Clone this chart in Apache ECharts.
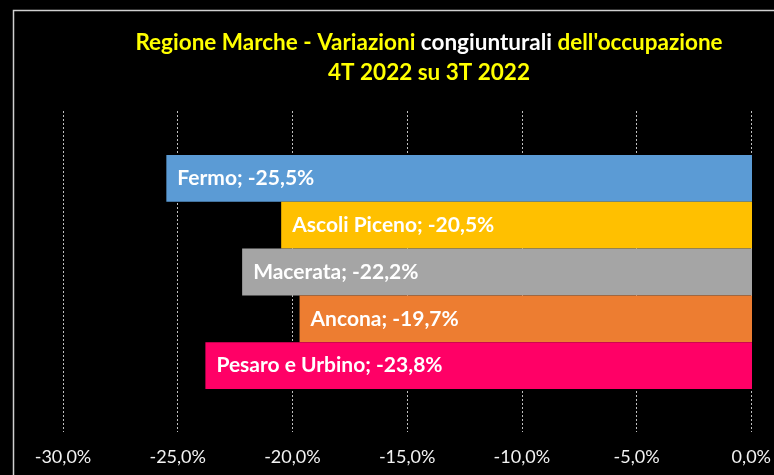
<!DOCTYPE html>
<html>
<head>
<meta charset="utf-8">
<script src="https://cdn.jsdelivr.net/npm/echarts@6/dist/echarts.min.js"></script>
<style>
html, body { margin: 0; padding: 0; background: #000; }
#chart { width: 774px; height: 475px; }
</style>
</head>
<body>
<div id="chart"></div>
<script>
// province e variazioni (4T 2022 su 3T 2022)
const province = ['Fermo', 'Ascoli Piceno', 'Macerata', 'Ancona', 'Pesaro e Urbino'];
const variazioni = [-25.5, -20.5, -22.2, -19.7, -23.8];
const colori = ['#5B9BD5', '#FFC000', '#A5A5A5', '#ED7D31', '#FF0066'];
const tickMin = -30, tickMax = 0, tickStep = 5;

const fmt = v => v.toFixed(1).replace('.', ',') + '%';

const chart = echarts.init(document.getElementById('chart'));

const option = {
  backgroundColor: '#000',
  animation: false,
  graphic: [{
    type: 'rect',
    shape: { x: 13.5, y: 10.5, width: 800, height: 500 },
    style: { fill: 'none', stroke: '#d0d0d0', lineWidth: 1.5 },
    silent: true
  }],
  title: {
    left: 424,
    top: 23,
    textAlign: 'center',
    text: '{y|Regione Marche - Variazioni }{w|congiunturali}{y| dell\'occupazione}\n{y|4T 2022 su 3T 2022}',
    textStyle: {
      rich: {
        y: { color: '#FFFF00', fontFamily: 'Lato', fontWeight: 'bold', fontSize: 22.5, lineHeight: 30 },
        w: { color: '#FFFFFF', fontFamily: 'Lato', fontWeight: 'bold', fontSize: 22.5, lineHeight: 30 }
      }
    }
  },
  grid: [
    // griglia con linee verticali ed etichette
    { left: 63, right: 22, top: 111, bottom: 43 },
    // griglia delle barre
    { left: 63, right: 22, top: 155, height: 234 }
  ],
  xAxis: [
    {
      gridIndex: 0,
      type: 'value',
      min: tickMin, max: tickMax, interval: tickStep,
      axisLine: { show: false },
      axisTick: { show: false },
      axisLabel: {
        color: '#f2f2f2', fontFamily: 'Lato', fontSize: 18, margin: 16,
        formatter: v => fmt(v)
      },
      splitLine: { show: true, lineStyle: { color: '#bfbfbf', type: [2, 2], width: 1 } }
    },
    {
      gridIndex: 1,
      type: 'value',
      min: tickMin, max: tickMax, interval: tickStep,
      show: false
    }
  ],
  yAxis: [
    { gridIndex: 0, type: 'category', data: province, show: false },
    { gridIndex: 1, type: 'category', data: province, inverse: true, show: false }
  ],
  series: [{
    type: 'bar',
    xAxisIndex: 1,
    yAxisIndex: 1,
    barCategoryGap: 0,
    data: variazioni.map((v, i) => ({ value: v, itemStyle: { color: colori[i] } })),
    label: {
      show: true,
      position: 'insideLeft',
      distance: 11,
      color: '#ffffff',
      fontFamily: 'Lato',
      fontWeight: 'bold',
      fontSize: 21,
      formatter: p => province[p.dataIndex] + '; ' + fmt(p.value)
    }
  }]
};

chart.setOption(option);
</script>
</body>
</html>
